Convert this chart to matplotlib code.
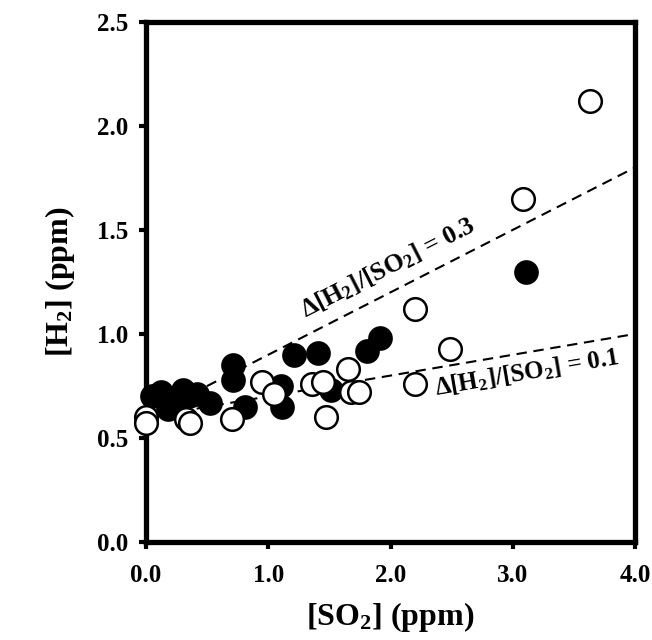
import numpy as np
import matplotlib
matplotlib.use("Agg")
import matplotlib.pyplot as plt

# Data
filled_so2 = [0.05, 0.12, 0.18, 0.25, 0.30, 0.35, 0.42, 0.52, 0.71, 0.71, 0.81,
              1.10, 1.11, 1.21, 1.41, 1.51, 1.81, 1.91, 3.11]
filled_h2 = [0.70, 0.72, 0.64, 0.68, 0.73, 0.70, 0.71, 0.67, 0.85, 0.78, 0.65,
             0.75, 0.65, 0.90, 0.91, 0.73, 0.92, 0.98, 1.30]

open_so2 = [0.00, 0.00, 0.33, 0.36, 0.70, 0.95, 1.05, 1.36, 1.45, 1.47, 1.65,
            1.68, 1.74, 2.20, 2.20, 2.49, 3.08, 3.63]
open_h2 = [0.60, 0.57, 0.59, 0.57, 0.59, 0.77, 0.71, 0.76, 0.77, 0.60, 0.83,
           0.72, 0.72, 1.12, 0.76, 0.93, 1.65, 2.12]

intercept = 0.6
slopes = [0.3, 0.1]
slope_labels = [r"$\Delta$[H$_2$]/[SO$_2$] = 0.3", r"$\Delta$[H$_2$]/[SO$_2$] = 0.1"]

x_ticks = [0.0, 1.0, 2.0, 3.0, 4.0]
y_ticks = [0.0, 0.5, 1.0, 1.5, 2.0, 2.5]

plt.rcParams['font.family'] = ['Liberation Serif', 'DejaVu Serif']
plt.rcParams['font.weight'] = 'bold'
plt.rcParams['mathtext.fontset'] = 'custom'
plt.rcParams['mathtext.rm'] = 'Liberation Serif:bold'
plt.rcParams['mathtext.it'] = 'Liberation Serif:bold'
plt.rcParams['mathtext.bf'] = 'Liberation Serif:bold'

fig = plt.figure(figsize=(6.52, 6.40), dpi=100)
ax = fig.add_axes([0.224, 0.153, 0.750, 0.813])

xl = np.array([0.0, 4.0])
for s in slopes:
    ax.plot(xl, intercept + s * xl, ls=(0, (5, 3.2)), color='black', lw=1.5, zorder=1)

ax.scatter(filled_so2, filled_h2, s=265, facecolor='black', edgecolor='black',
           linewidth=1.5, zorder=3, clip_on=False)
ax.scatter(open_so2, open_h2, s=265, facecolor='white', edgecolor='black',
           linewidth=1.8, zorder=4, clip_on=False)

ax.text(1.30, 1.075, slope_labels[0], rotation=np.degrees(np.arctan(slopes[0])),
        transform_rotates_text=True, rotation_mode='anchor',
        fontsize=18.5, fontweight='bold', ha='left', va='baseline')
ax.text(2.37, 0.705, slope_labels[1], rotation=np.degrees(np.arctan(slopes[1])),
        transform_rotates_text=True, rotation_mode='anchor',
        fontsize=18, fontweight='bold', ha='left', va='baseline')

ax.set_xlim(0, 4)
ax.set_ylim(0, 2.5)
ax.set_xticks(x_ticks)
ax.set_xticklabels([f"{v:.1f}" for v in x_ticks])
ax.set_yticks(y_ticks)
ax.set_yticklabels([f"{v:.1f}" for v in y_ticks])

for sp in ax.spines.values():
    sp.set_linewidth(3.8)
ax.tick_params(direction='out', length=5, width=3, labelsize=18)
ax.tick_params(axis='x', pad=11)
ax.tick_params(axis='y', pad=8)
for lab in ax.get_xticklabels() + ax.get_yticklabels():
    lab.set_fontweight('bold')

ax.set_xlabel(r"[SO$_2$] (ppm)", fontsize=23, fontweight='bold', labelpad=9)
ax.set_ylabel(r"[H$_2$] (ppm)", fontsize=23, fontweight='bold', labelpad=14)

fig.savefig("out.png", dpi=100)
